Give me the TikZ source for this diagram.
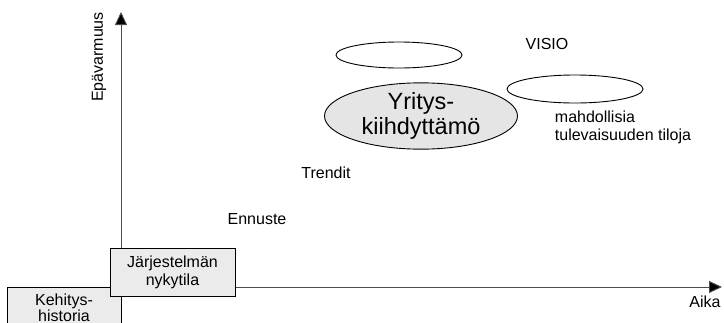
\documentclass[tikz,border=0pt]{standalone}
\usepackage{fontspec}
\setmainfont{Liberation Sans}
\usetikzlibrary{shapes.geometric,arrows.meta}

\tikzset{
  axisline/.style={draw=black!70, line width=0.9pt, -{Triangle[length=13pt,width=12pt,fill=black]}},
  statebox/.style={draw=black, line width=0.9pt, fill=black!8, minimum width=114pt, minimum height=48pt, inner sep=1pt, align=center},
  futureoval/.style={ellipse, draw=black, line width=0.9pt, inner sep=0pt},
  plaintext/.style={inner sep=0.75pt, align=left, font=\fontsize{16}{18}\selectfont}
}

\begin{document}
\begin{tikzpicture}[x=1pt,y=1pt,yscale=-1,xscale=1,font=\fontsize{16}{18}\selectfont]
\useasboundingbox (0,0) rectangle (724,322);

% Axes
\coordinate (origin) at (121,287);
\coordinate (ytop) at (121,12);
\coordinate (xend) at (722,287);
\draw [axisline] (origin) -- (ytop);
\draw [axisline] (origin) -- (xend);

% Boxes
\node [statebox, minimum height=42pt, font=\fontsize{16}{16.5}\selectfont] (history) at (64,308) {Kehitys-\\historia};
\node [statebox, minimum width=125pt] (present) at (172.5,272) {Järjestelmän\\nykytila};

% Ellipses
\node [futureoval, minimum width=126pt, minimum height=26pt] (oval1) at (399,55) {};
\node [futureoval, minimum width=136pt, minimum height=28pt] (oval2) at (575,89) {};
\node [futureoval, fill=black!10, minimum width=193pt, minimum height=60pt, align=center,
       font=\fontsize{23.5}{25}\selectfont] (accelerator) at (421,116) {Yritys-\\kiihdyttämö};

% Text Nodes
\node [plaintext] (visio) at (547,44) {VISIO};
\node [plaintext, anchor=west] (possible) at (554,127) {mahdollisia\\tulevaisuuden tiloja};
\node [plaintext] (trends) at (326,173) {Trendit};
\node [plaintext] (forecast) at (257,219) {Ennuste};
\node [plaintext] (time) at (705,302) {Aika};
\node [plaintext, rotate=90] (uncertainty) at (99,57) {Epävarmuus};

\end{tikzpicture}
\end{document}
